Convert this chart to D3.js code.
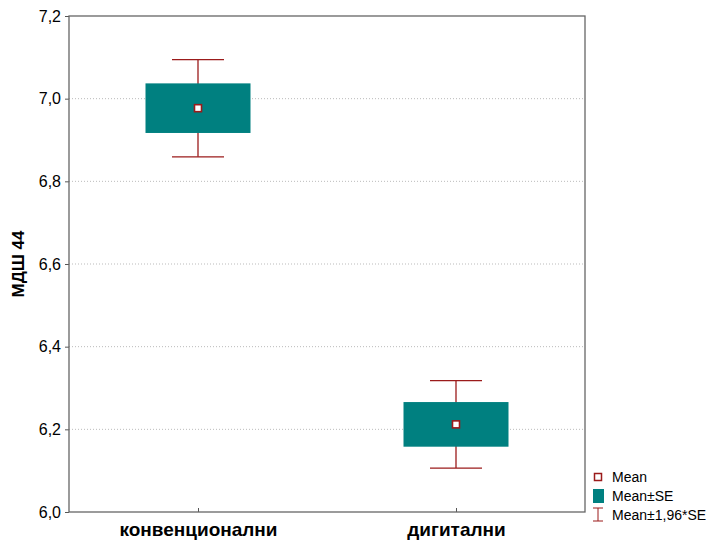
<!DOCTYPE html>
<html>
<head>
<meta charset="utf-8">
<script src="https://cdn.jsdelivr.net/npm/d3@7"></script>
<style>
  body { margin: 0; background: #fff; }
  text { font-family: Arial, "Liberation Sans", sans-serif; }
</style>
</head>
<body>
<div id="chart"></div>
<script>
// data
var categories = ['конвенционални', 'дигитални'];
var means = [6.977, 6.212];
var se = [0.060, 0.054];
var yTicks = [6.0, 6.2, 6.4, 6.6, 6.8, 7.0, 7.2];
var legendLabels = ['Mean', 'Mean±SE', 'Mean±1,96*SE'];

var teal = '#008080', red = '#9b1b1b';
var W = 716, H = 541;
var margin = {top: 16, right: 131, bottom: 29, left: 69},
    width = W - margin.left - margin.right,
    height = H - margin.top - margin.bottom;

var svg = d3.select('#chart').append('svg')
  .attr('width', W).attr('height', H);
var g = svg.append('g')
  .attr('transform', 'translate(' + margin.left + ',' + margin.top + ')');

var x = d3.scalePoint().domain(categories).range([0, width]).padding(0.5);
var y = d3.scaleLinear().domain([6.0, 7.2]).range([height, 0]);

// grid
g.selectAll('.grid').data(yTicks.slice(1, -1)).enter().append('line')
  .attr('x1', 0).attr('x2', width)
  .attr('y1', function(d) { return y(d); }).attr('y2', function(d) { return y(d); })
  .attr('stroke', '#bbb').attr('stroke-dasharray', '1,2');

// y axis
var yAxis = g.append('g')
  .call(d3.axisLeft(y).tickValues(yTicks).tickSize(4).tickSizeOuter(0)
    .tickFormat(function(d) { return d3.format('.1f')(d).replace('.', ','); }));
yAxis.select('.domain').remove();
yAxis.selectAll('line').attr('stroke', '#555');
yAxis.selectAll('text').attr('font-size', 16).attr('fill', '#000').attr('dx', -1);

// x axis
var xAxis = g.append('g').attr('transform', 'translate(0,' + height + ')')
  .call(d3.axisBottom(x).tickSize(-4).tickSizeOuter(0));
xAxis.select('.domain').remove();
xAxis.selectAll('line').attr('stroke', '#555');
xAxis.selectAll('text').attr('font-size', 19).attr('font-weight', 'bold')
  .attr('fill', '#000').attr('y', 24).attr('dy', 0);

// frame
g.append('rect').attr('width', width).attr('height', height)
  .attr('fill', 'none').attr('stroke', '#666').attr('stroke-width', 1.3);

var boxW = 105, capW = 52;
var items = g.selectAll('.item').data(categories).enter().append('g');

// whiskers
items.append('line')
  .attr('x1', function(d) { return x(d); }).attr('x2', function(d) { return x(d); })
  .attr('y1', function(d, i) { return y(means[i] + 1.96 * se[i]); })
  .attr('y2', function(d, i) { return y(means[i] - 1.96 * se[i]); })
  .attr('stroke', red).attr('stroke-width', 1.3);
[1, -1].forEach(function(s) {
  items.append('line')
    .attr('x1', function(d) { return x(d) - capW / 2; }).attr('x2', function(d) { return x(d) + capW / 2; })
    .attr('y1', function(d, i) { return y(means[i] + s * 1.96 * se[i]); })
    .attr('y2', function(d, i) { return y(means[i] + s * 1.96 * se[i]); })
    .attr('stroke', red).attr('stroke-width', 1.3);
});

// boxes
items.append('rect')
  .attr('x', function(d) { return x(d) - boxW / 2; })
  .attr('width', boxW)
  .attr('y', function(d, i) { return y(means[i] + se[i]); })
  .attr('height', function(d, i) { return y(means[i] - se[i]) - y(means[i] + se[i]); })
  .attr('fill', teal);

// means
items.append('rect')
  .attr('x', function(d) { return x(d) - 3.5; })
  .attr('y', function(d, i) { return y(means[i]) - 3.5; })
  .attr('width', 7).attr('height', 7)
  .attr('fill', '#fff').attr('stroke', red).attr('stroke-width', 1.6);

// y label
svg.append('text')
  .attr('transform', 'translate(24,' + (margin.top + height / 2) + ') rotate(-90)')
  .attr('text-anchor', 'middle').attr('font-size', 17).attr('font-weight', 'bold')
  .text('МДШ 44');

// legend
var lg = svg.append('g').attr('transform', 'translate(598,477)');
lg.append('rect').attr('x', -3.5).attr('y', -3.5).attr('width', 7).attr('height', 7)
  .attr('fill', '#fff').attr('stroke', red).attr('stroke-width', 1.5);
lg.append('rect').attr('x', -5).attr('y', 12).attr('width', 11).attr('height', 14).attr('fill', teal);
lg.append('line').attr('x1', 0).attr('x2', 0).attr('y1', 31).attr('y2', 44).attr('stroke', red);
lg.append('line').attr('x1', -5).attr('x2', 5).attr('y1', 31).attr('y2', 31).attr('stroke', red);
lg.append('line').attr('x1', -5).attr('x2', 5).attr('y1', 44).attr('y2', 44).attr('stroke', red);
lg.selectAll('.lt').data(legendLabels).enter().append('text')
  .attr('x', 14).attr('y', function(d, i) { return 5 + i * 19; })
  .attr('font-size', 14).text(function(d) { return d; });
</script>
</body>
</html>
